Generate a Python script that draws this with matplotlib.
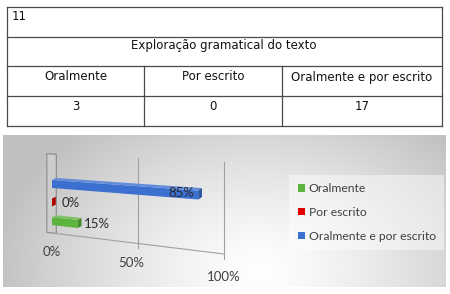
import numpy as np
import matplotlib.pyplot as plt
import matplotlib.transforms as mtransforms
from matplotlib.patches import Polygon, Patch
from matplotlib.colors import to_rgb

# table data
table_num = '11'
table_title = 'Exploração gramatical do texto'
columns = ['Oralmente', 'Por escrito', 'Oralmente e por escrito']
counts = [3, 0, 17]

# chart data
series = ['Oralmente', 'Por escrito', 'Oralmente e por escrito']
shares = [0.15, 0.0, 0.85]
colors = ['#5cb33e', '#e00000', '#3b6fd0']
ticks = [0, 0.5, 1.0]
tick_labels = ['0%', '50%', '100%']


def shade(c, f):
    r = np.array(to_rgb(c))
    if f > 0:
        return tuple(r + (1 - r) * f)
    return tuple(r * (1 + f))


class Persp(mtransforms.Transform):
    # fake 3d: value v (0..1) to the right, height c (0..1) up, perspective opens to the right
    input_dims = 2
    output_dims = 2
    is_separable = False
    has_inverse = False

    def transform_non_affine(self, xy):
        xy = np.asarray(xy, float).reshape(-1, 2)
        v, c = xy[:, 0], xy[:, 1]
        top = 19 + 8 * v
        floor = 98 + 21 * v
        return np.column_stack([49 + 172 * v, floor + (top - floor) * c])


fig = plt.figure(figsize=(4.5, 2.94), dpi=100)

# ---- table ----
tab = fig.add_axes([0, 0, 1, 1])
tab.set_xlim(0, 450)
tab.set_ylim(294, 0)
tab.axis('off')
lc = '#4a4a4a'
xs = [7, 144, 282, 442]
rows = [7, 37, 66, 96, 126]
for y in rows:
    tab.plot([xs[0], xs[-1]], [y, y], color=lc, lw=0.9)
tab.plot([xs[0], xs[0]], [rows[0], rows[-1]], color=lc, lw=0.9)
tab.plot([xs[-1], xs[-1]], [rows[0], rows[-1]], color=lc, lw=0.9)
for x in xs[1:-1]:
    tab.plot([x, x], [rows[2], rows[-1]], color=lc, lw=0.9)
tfont = dict(family='DejaVu Sans', size=8.5, color='#111111')
tab.text(12, 17, table_num, ha='left', va='center', **tfont)
tab.text(224, 46, table_title, ha='center', va='center', **tfont)
for i in range(3):
    cx = (xs[i] + xs[i + 1]) / 2
    tab.text(cx, 77, columns[i], ha='center', va='center', **tfont)
    tab.text(cx, 106, str(counts[i]), ha='center', va='center', **tfont)

# ---- chart panel ----
PW, PH = 443, 152
ax = fig.add_axes([3 / 450, (294 - 135 - PH) / 294, PW / 450, PH / 294])
ax.set_autoscale_on(False)
ax.set_xlim(0, PW)
ax.set_ylim(PH, 0)
ax.axis('off')

xx, yy = np.meshgrid(np.arange(PW), np.arange(PH))
d = np.sqrt(((xx - 255) / 270) ** 2 + ((yy - 135) / 190) ** 2)
g = 1 - 0.25 * np.clip(d, 0, 1) ** 1.3
ax.imshow(np.dstack([g, g, g]), extent=(0, PW, PH, 0), aspect='auto', zorder=0)

T = Persp() + ax.transData

# back wall at 0%
ax.add_patch(Polygon([(-0.03, 0), (0.025, 0), (0.025, 1), (-0.03, 1)], closed=True,
                     transform=T, facecolor='#cdcdcd', edgecolor='#8a8a8a', lw=0.8, zorder=1))
# gridlines, floor, ticks
for t in ticks[1:]:
    ax.plot([t, t], [0, 1], transform=T, color='#a0a0a0', lw=0.8, zorder=1)
    ax.plot([t, t], [0, -0.05], transform=T, color='#a0a0a0', lw=0.8, zorder=1)
ax.plot([0, 1], [0, 0], transform=T, color='#a0a0a0', lw=0.8, zorder=1)
for t, lab in zip(ticks, tick_labels):
    ax.text(t - 0.16 * t * (1 - t), -0.245, lab, transform=T, ha='center', va='center',
            fontsize=9.5, family='Lato', color='#404040')

# bars
h = 0.1
dv, dc = 0.022, 0.03
for i, (v, col) in enumerate(zip(shares, colors)):
    pos = 0.15 + 0.235 * i
    y0, y1 = pos - h / 2, pos + h / 2
    ax.add_patch(Polygon([(0, y0), (v, y0), (v, y1), (0, y1)], transform=T,
                         facecolor=col, edgecolor='none', zorder=3))
    ax.add_patch(Polygon([(0, y1), (v, y1), (v + dv, y1 + dc), (dv, y1 + dc)], transform=T,
                         facecolor=shade(col, 0.2), edgecolor='none', zorder=3))
    ax.add_patch(Polygon([(v, y0), (v + dv, y0 + dc), (v + dv, y1 + dc), (v, y1)], transform=T,
                         facecolor=shade(col, -0.22), edgecolor='none', zorder=3))
    if v < 0.5:
        lx, ly = v + 0.11, pos + 0.02
    else:
        lx, ly = v - 0.1, pos + 0.01
    ax.text(lx, ly, f'{v:.0%}', transform=T, ha='center', va='center',
            fontsize=9.5, family='Lato', color='#2a2a2a', zorder=4)

handles = [Patch(facecolor=c) for c in colors]
leg = ax.legend(handles, series, loc='center left', bbox_to_anchor=(0.633, 0.49),
                frameon=True, facecolor='white', framealpha=0.45, edgecolor='none',
                fancybox=False, handlelength=0.55, handleheight=0.55, handletextpad=0.35,
                labelspacing=1.05, borderpad=0.7,
                prop={'family': 'Lato', 'size': 8.7})
for txt in leg.get_texts():
    txt.set_color('#404040')

fig.savefig('out.png', dpi=100)
